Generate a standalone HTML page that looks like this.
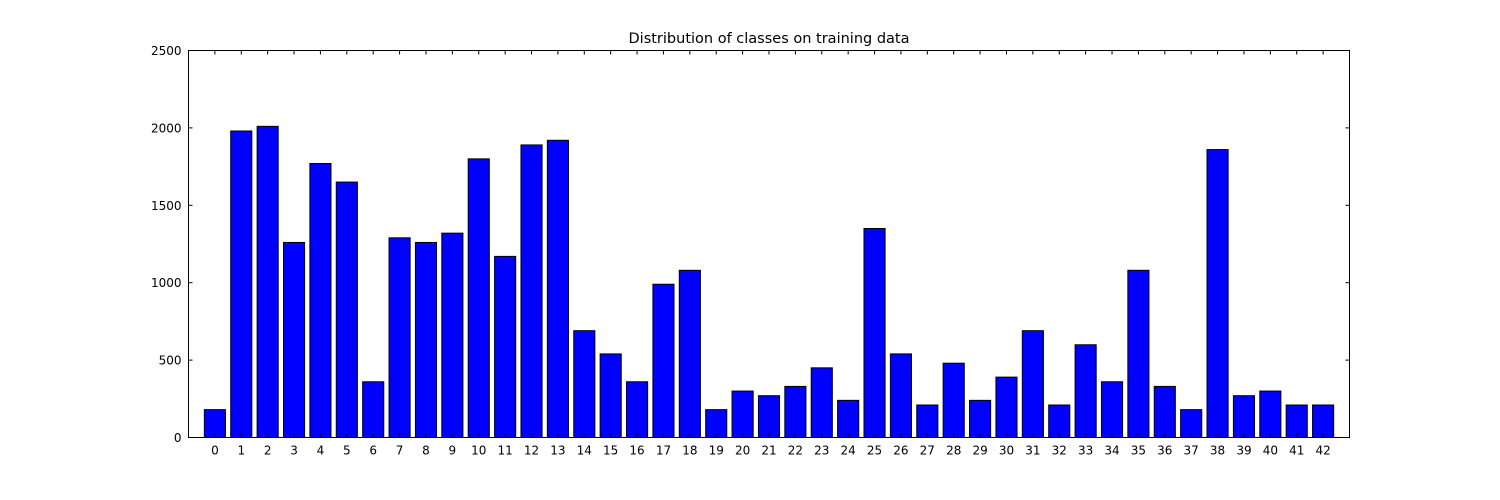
<!DOCTYPE html>
<html><head><meta charset="utf-8"><style>
body{margin:0;background:#fff;}
svg{display:block;font-family:"DejaVu Sans","Liberation Sans",sans-serif;}
</style></head><body>
<svg id="chart" width="1500" height="500" xmlns="http://www.w3.org/2000/svg">
<rect width="1500" height="500" fill="#fff"/>
<text x="769" y="43" text-anchor="middle" font-size="14.5">Distribution of classes on training data</text>
<g id="bars"></g>
<g id="ticks"></g>
<rect x="188.5" y="50.5" width="1161" height="387" fill="none" stroke="#000" stroke-width="1"/>
</svg>
<script>
const categories = Array.from({length:43},(_,i)=>String(i));
const counts = [180,1980,2010,1260,1770,1650,360,1290,1260,1320,1800,1170,1890,1920,690,540,360,990,1080,180,300,270,330,450,240,1350,540,210,480,240,390,690,210,599,360,1080,330,180,1860,270,300,210,210];
const yTicks = [0,500,1000,1500,2000,2500];

const L=188.5,R=1349.5,T=50.5,B=437.5;
const xDom=[-1,categories.length], yDom=[0,2500];
const x=v=>L+(v-xDom[0])/(xDom[1]-xDom[0])*(R-L);
const y=v=>B-(v-yDom[0])/(yDom[1]-yDom[0])*(B-T);
const NS='http://www.w3.org/2000/svg';
const bars=document.getElementById('bars'), ticks=document.getElementById('ticks');
function mk(tag,attrs,parent){const e=document.createElementNS(NS,tag);for(const k in attrs)e.setAttribute(k,attrs[k]);parent.appendChild(e);return e;}
const bw=(x(1)-x(0))*0.8;
counts.forEach((c,i)=>{
  const r=mk('rect',{x:x(i)-bw/2,y:y(c),width:bw,height:y(0)-y(c),fill:'#0000ff',stroke:'#000','stroke-width':1},bars);
  
  
  const t1=mk('line',{x1:x(i),x2:x(i),y1:B,y2:B-4,stroke:'#000'},ticks);
  const t2=mk('line',{x1:x(i),x2:x(i),y1:T,y2:T+4,stroke:'#000'},ticks);
  const lb=mk('text',{x:x(i),y:B+17,'text-anchor':'middle','font-size':12},ticks);
  lb.textContent=categories[i];
  
  
});
yTicks.forEach(v=>{
  mk('line',{x1:L,x2:L+4,y1:y(v),y2:y(v),stroke:'#000'},ticks);
  mk('line',{x1:R,x2:R-4,y1:y(v),y2:y(v),stroke:'#000'},ticks);
  const lb=mk('text',{x:L-7,y:y(v)+4.5,'text-anchor':'end','font-size':12},ticks);
  lb.textContent=String(v);
  
  
});
</script>
</body></html>
